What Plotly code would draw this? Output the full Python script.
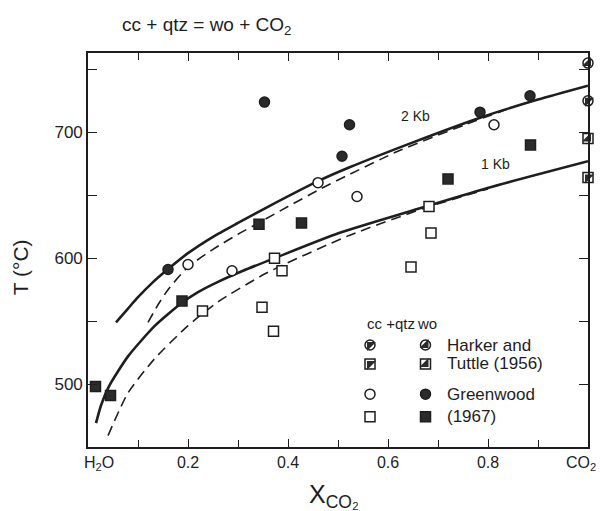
import plotly.graph_objects as go

# ---------------- data ----------------
# reaction curves  cc + qtz = wo + CO2
x_2kb_solid = [0.056, 0.08, 0.10, 0.13, 0.159, 0.20, 0.25, 0.30, 0.356, 0.459, 0.522, 0.65, 0.787, 0.90, 1.0]
t_2kb_solid = [549, 560, 569, 581, 591, 604, 617, 628, 640, 661, 672, 692, 712, 726, 737]

x_2kb_dash = [0.120, 0.14, 0.16, 0.20, 0.25, 0.30, 0.341, 0.40, 0.46, 0.515, 0.62, 0.754, 0.85]
t_2kb_dash = [549, 563, 575, 593, 607, 619, 628, 641, 654, 665, 685, 706, 720]

x_1kb_solid = [0.016, 0.026, 0.043, 0.08, 0.133, 0.186, 0.22, 0.259, 0.31, 0.373, 0.502, 0.675, 0.801, 1.0]
t_1kb_solid = [469, 483, 499, 522, 546, 564, 573, 581, 590, 600, 620, 641, 656, 677]

x_1kb_dash = [0.040, 0.08, 0.133, 0.199, 0.259, 0.356, 0.522, 0.675, 0.80]
t_1kb_dash = [459, 493, 520, 546, 565, 588, 618, 640, 655]

# Greenwood (1967)
gw_wo_circ_x = [0.160, 0.353, 0.508, 0.523, 0.784, 0.884]
gw_wo_circ_t = [591, 724, 681, 706, 716, 729]
gw_cq_circ_x = [0.200, 0.288, 0.460, 0.538, 0.812]
gw_cq_circ_t = [595, 590, 660, 649, 706]
gw_wo_sq_x = [0.015, 0.045, 0.188, 0.342, 0.427, 0.720, 0.885]
gw_wo_sq_t = [498, 491, 566, 627, 628, 663, 690]
gw_cq_sq_x = [0.229, 0.348, 0.371, 0.373, 0.388, 0.646, 0.682, 0.686]
gw_cq_sq_t = [558, 561, 542, 600, 590, 593, 641, 620]

# Harker and Tuttle (1956)
ht_wo_circ_x = [1.0]
ht_wo_circ_t = [755]
ht_cq_circ_x = [1.0]
ht_cq_circ_t = [725]
ht_wo_sq_x = [1.0]
ht_wo_sq_t = [695]
ht_cq_sq_x = [1.0]
ht_cq_sq_t = [664]

x_tick_vals = [0.2, 0.4, 0.6, 0.8]
x_tick_text = ["0.2", "0.4", "0.6", "0.8"]
y_tick_vals = [500, 600, 700]

# legend layout (data coordinates)
leg_col_cq = 0.564
leg_col_wo = 0.675
leg_rows = [531, 516, 492, 474]
leg_text_x = 0.713
leg_texts = ["Harker and", "Tuttle (1956)", "Greenwood", "(1967)"]

# ---------------- styling ----------------
INK = "#1e1e1e"
FILL = "#2b2b2b"
FONT = "Liberation Sans, Arial, sans-serif"
MS = 10

fig = go.Figure()

def curve(x, y, dash, width):
    fig.add_trace(go.Scatter(x=x, y=y, mode="lines",
                             line=dict(color=INK, width=width, dash=dash,
                                       shape="spline", smoothing=0.6),
                             hoverinfo="skip", showlegend=False))

curve(x_2kb_solid, t_2kb_solid, "solid", 2.6)
curve(x_2kb_dash, t_2kb_dash, "10px,6px", 1.6)
curve(x_1kb_solid, t_1kb_solid, "solid", 2.6)
curve(x_1kb_dash, t_1kb_dash, "10px,6px", 1.6)

def pts(x, y, symbol, filled, size=MS):
    fig.add_trace(go.Scatter(
        x=x, y=y, mode="markers", showlegend=False, cliponaxis=False,
        marker=dict(symbol=symbol, size=size,
                    color=FILL if filled else "white",
                    line=dict(color=INK, width=1.5))))

def half(x, y, symbol, tri):
    pts(x, y, symbol, False)
    fig.add_trace(go.Scatter(
        x=x, y=y, mode="markers", showlegend=False, cliponaxis=False,
        marker=dict(symbol=tri, size=MS, color=FILL, line=dict(width=0))))

pts(gw_cq_circ_x, gw_cq_circ_t, "circle", False)
pts(gw_wo_circ_x, gw_wo_circ_t, "circle", True)
pts(gw_cq_sq_x, gw_cq_sq_t, "square", False)
pts(gw_wo_sq_x, gw_wo_sq_t, "square", True)

half(ht_wo_circ_x, ht_wo_circ_t, "circle", "triangle-se")
half(ht_cq_circ_x, ht_cq_circ_t, "circle", "triangle-nw")
half(ht_wo_sq_x, ht_wo_sq_t, "square", "triangle-se")
half(ht_cq_sq_x, ht_cq_sq_t, "square", "triangle-nw")

# legend symbols
half([leg_col_cq], [leg_rows[0]], "circle", "triangle-nw")
half([leg_col_cq], [leg_rows[1]], "square", "triangle-nw")
half([leg_col_wo], [leg_rows[0]], "circle", "triangle-se")
half([leg_col_wo], [leg_rows[1]], "square", "triangle-se")
pts([leg_col_cq], [leg_rows[2]], "circle", False)
pts([leg_col_cq], [leg_rows[3]], "square", False)
pts([leg_col_wo], [leg_rows[2]], "circle", True)
pts([leg_col_wo], [leg_rows[3]], "square", True)

ann = []
def text(x, y, s, size, xref="x", yref="y", xanchor="center", angle=0):
    ann.append(dict(x=x, y=y, xref=xref, yref=yref, text=s, showarrow=False,
                    xanchor=xanchor, yanchor="middle", textangle=angle,
                    font=dict(family=FONT, size=size, color=INK)))

text(0.553, 548, "cc +qtz", 15, xanchor="left")
text(0.654, 548, "wo", 15, xanchor="left")
for r, s in zip(leg_rows, leg_texts):
    text(leg_text_x, r, s, 17, xanchor="left")

text(0.655, 713, "2 Kb", 14)
text(0.815, 675, "1 Kb", 14)

text(0.237, 1.068, "cc + qtz = wo + CO<sub>2</sub>", 19, xref="paper", yref="paper")
text(-0.135, 0.455, "T (°C)", 21, xref="paper", yref="paper", angle=-90)
text(0.492, -0.125, "X<sub>CO₂</sub>", 25, xref="paper", yref="paper")
text(0.022, -0.043, "H<sub>2</sub>O", 16, xref="paper", yref="paper")
text(0.985, -0.043, "CO<sub>2</sub>", 16, xref="paper", yref="paper")

fig.update_layout(
    width=600, height=511,
    margin=dict(l=88, r=10, t=53, b=64),
    paper_bgcolor="white", plot_bgcolor="white",
    annotations=ann, showlegend=False,
    font=dict(family=FONT, color=INK),
)
fig.update_xaxes(range=[0, 1.0], showgrid=False, zeroline=False,
                 showline=True, linecolor=INK, linewidth=1.6, mirror="ticks",
                 ticks="inside", ticklen=8, tickwidth=1.4, tickcolor=INK,
                 tickvals=x_tick_vals, ticktext=x_tick_text,
                 tickfont=dict(family=FONT, size=16, color=INK),
                 minor=dict(dtick=0.1, tick0=0, ticks="inside", ticklen=7,
                            tickwidth=1.4, tickcolor=INK, showgrid=False))
fig.update_yaxes(range=[450, 763], showgrid=False, zeroline=False,
                 showline=True, linecolor=INK, linewidth=1.6, mirror="ticks",
                 ticks="inside", ticklen=9, tickwidth=1.4, tickcolor=INK,
                 tickvals=y_tick_vals, ticksuffix="   ",
                 tickfont=dict(family=FONT, size=17, color=INK),
                 minor=dict(dtick=50, tick0=450, ticks="inside", ticklen=9,
                            tickwidth=1.4, tickcolor=INK, showgrid=False))

fig.write_html("out.html", config={"displayModeBar": False},
               post_script="document.body.style.margin='0px';document.body.style.overflow='hidden';")
